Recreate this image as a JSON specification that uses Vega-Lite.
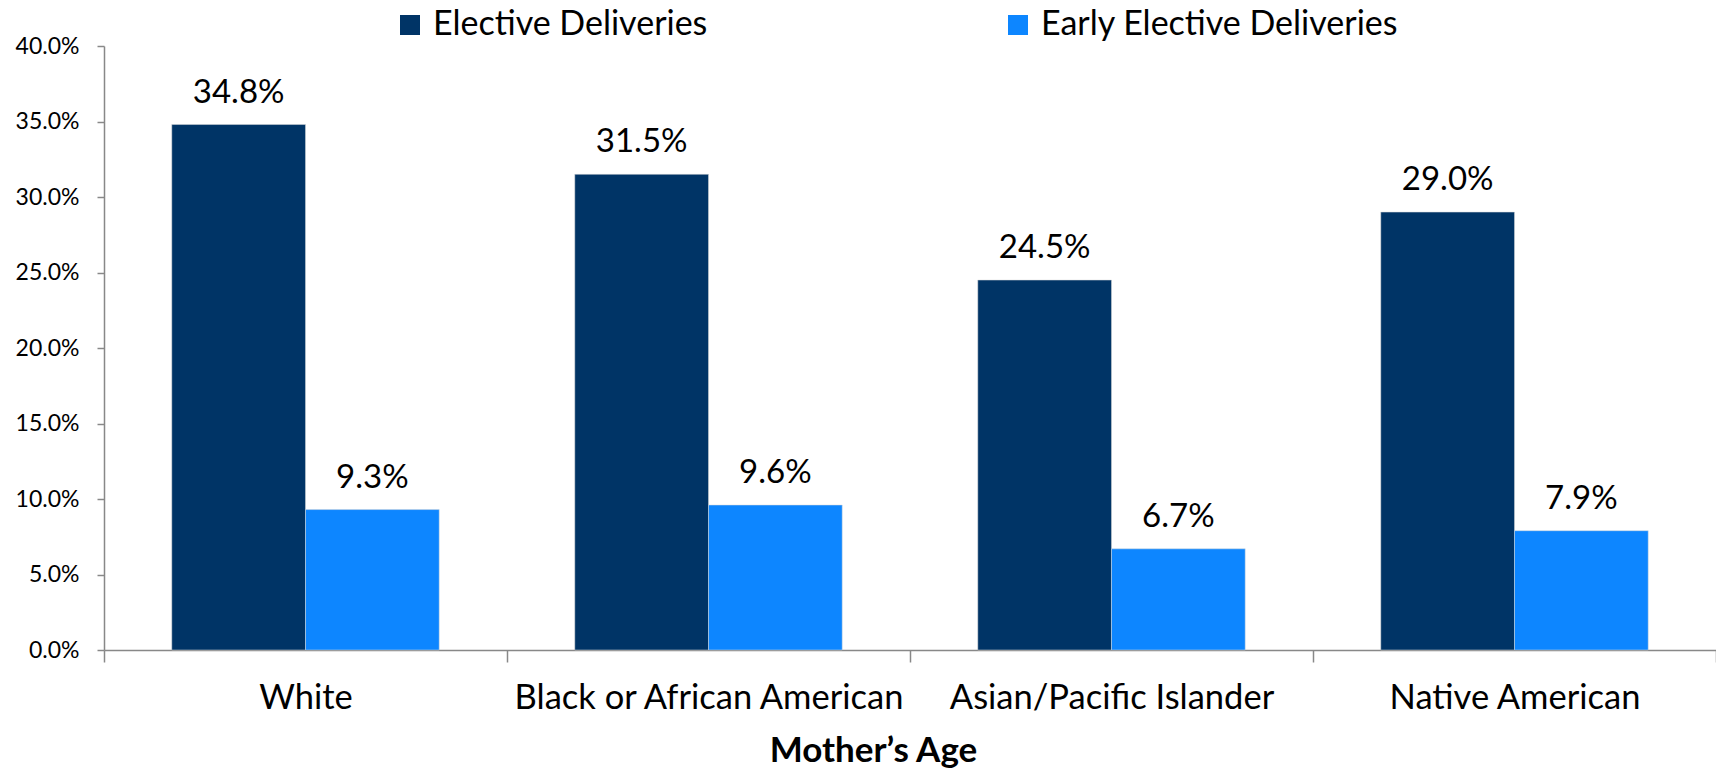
{
  "$schema": "https://vega.github.io/schema/vega-lite/v6.json",
  "width": 1612,
  "height": 604,
  "autosize": {"type": "none"},
  "padding": {"left": 104, "top": 46, "right": 0, "bottom": 124},
  "background": "white",
  "config": {
    "view": {"stroke": null},
    "font": "Lato"
  },
  "data": {
    "values": [
      {"race": "White", "series": "Elective Deliveries", "value": 0.348},
      {"race": "White", "series": "Early Elective Deliveries", "value": 0.093},
      {"race": "Black or African American", "series": "Elective Deliveries", "value": 0.315},
      {"race": "Black or African American", "series": "Early Elective Deliveries", "value": 0.096},
      {"race": "Asian/Pacific Islander", "series": "Elective Deliveries", "value": 0.245},
      {"race": "Asian/Pacific Islander", "series": "Early Elective Deliveries", "value": 0.067},
      {"race": "Native American", "series": "Elective Deliveries", "value": 0.290},
      {"race": "Native American", "series": "Early Elective Deliveries", "value": 0.079}
    ]
  },
  "encoding": {
    "x": {
      "field": "race",
      "type": "nominal",
      "sort": ["White", "Black or African American", "Asian/Pacific Islander", "Native American"],
      "scale": {"paddingInner": 0, "paddingOuter": 0},
      "axis": {
        "title": "Mother’s Age",
        "titleFont": "Lato",
        "titleFontSize": 35,
        "titleFontWeight": "bold",
        "titleColor": "#000000",
        "titleX": 769,
        "titlePadding": 19,
        "labelAngle": 0,
        "labelFontSize": 34.5,
        "labelColor": "#000000",
        "labelPadding": 19,
        "labelLimit": 600,
        "tickBand": "extent",
        "tickSize": 12,
        "tickColor": "#888888",
        "tickWidth": 1.5,
        "domainColor": "#888888",
        "domainWidth": 1.5
      }
    },
    "xOffset": {
      "field": "series",
      "type": "nominal",
      "sort": ["Elective Deliveries", "Early Elective Deliveries"],
      "scale": {"paddingInner": 0, "paddingOuter": 0.507}
    },
    "y": {
      "field": "value",
      "type": "quantitative",
      "scale": {"domain": [0, 0.4], "nice": false},
      "axis": {
        "title": null,
        "format": ".1%",
        "values": [0, 0.05, 0.1, 0.15, 0.2, 0.25, 0.3, 0.35, 0.4],
        "labelOverlap": false,
        "grid": false,
        "labelFontSize": 23,
        "labelColor": "#000000",
        "labelPadding": 18,
        "tickSize": 7,
        "tickColor": "#888888",
        "tickWidth": 1.5,
        "domainColor": "#888888",
        "domainWidth": 1.5
      }
    }
  },
  "layer": [
    {
      "mark": {"type": "bar", "stroke": "#d9d9d9", "strokeWidth": 0.5},
      "encoding": {
        "color": {
          "field": "series",
          "type": "nominal",
          "scale": {
            "domain": ["Elective Deliveries", "Early Elective Deliveries"],
            "range": ["#003466", "#0D86FF"]
          },
          "legend": {
            "title": null,
            "orient": "none",
            "direction": "horizontal",
            "legendX": 289,
            "legendY": -38,
            "symbolType": "square",
            "symbolSize": 400,
            "symbolStrokeWidth": 0,
            "labelFontSize": 34,
            "labelColor": "#000000",
            "labelOffset": 6,
            "labelLimit": 600,
            "columnPadding": 293
          }
        }
      }
    },
    {
      "mark": {"type": "text", "fontSize": 33, "color": "#000000", "baseline": "alphabetic", "dy": -22},
      "encoding": {
        "text": {"field": "value", "type": "quantitative", "format": ".1%"}
      }
    }
  ]
}
